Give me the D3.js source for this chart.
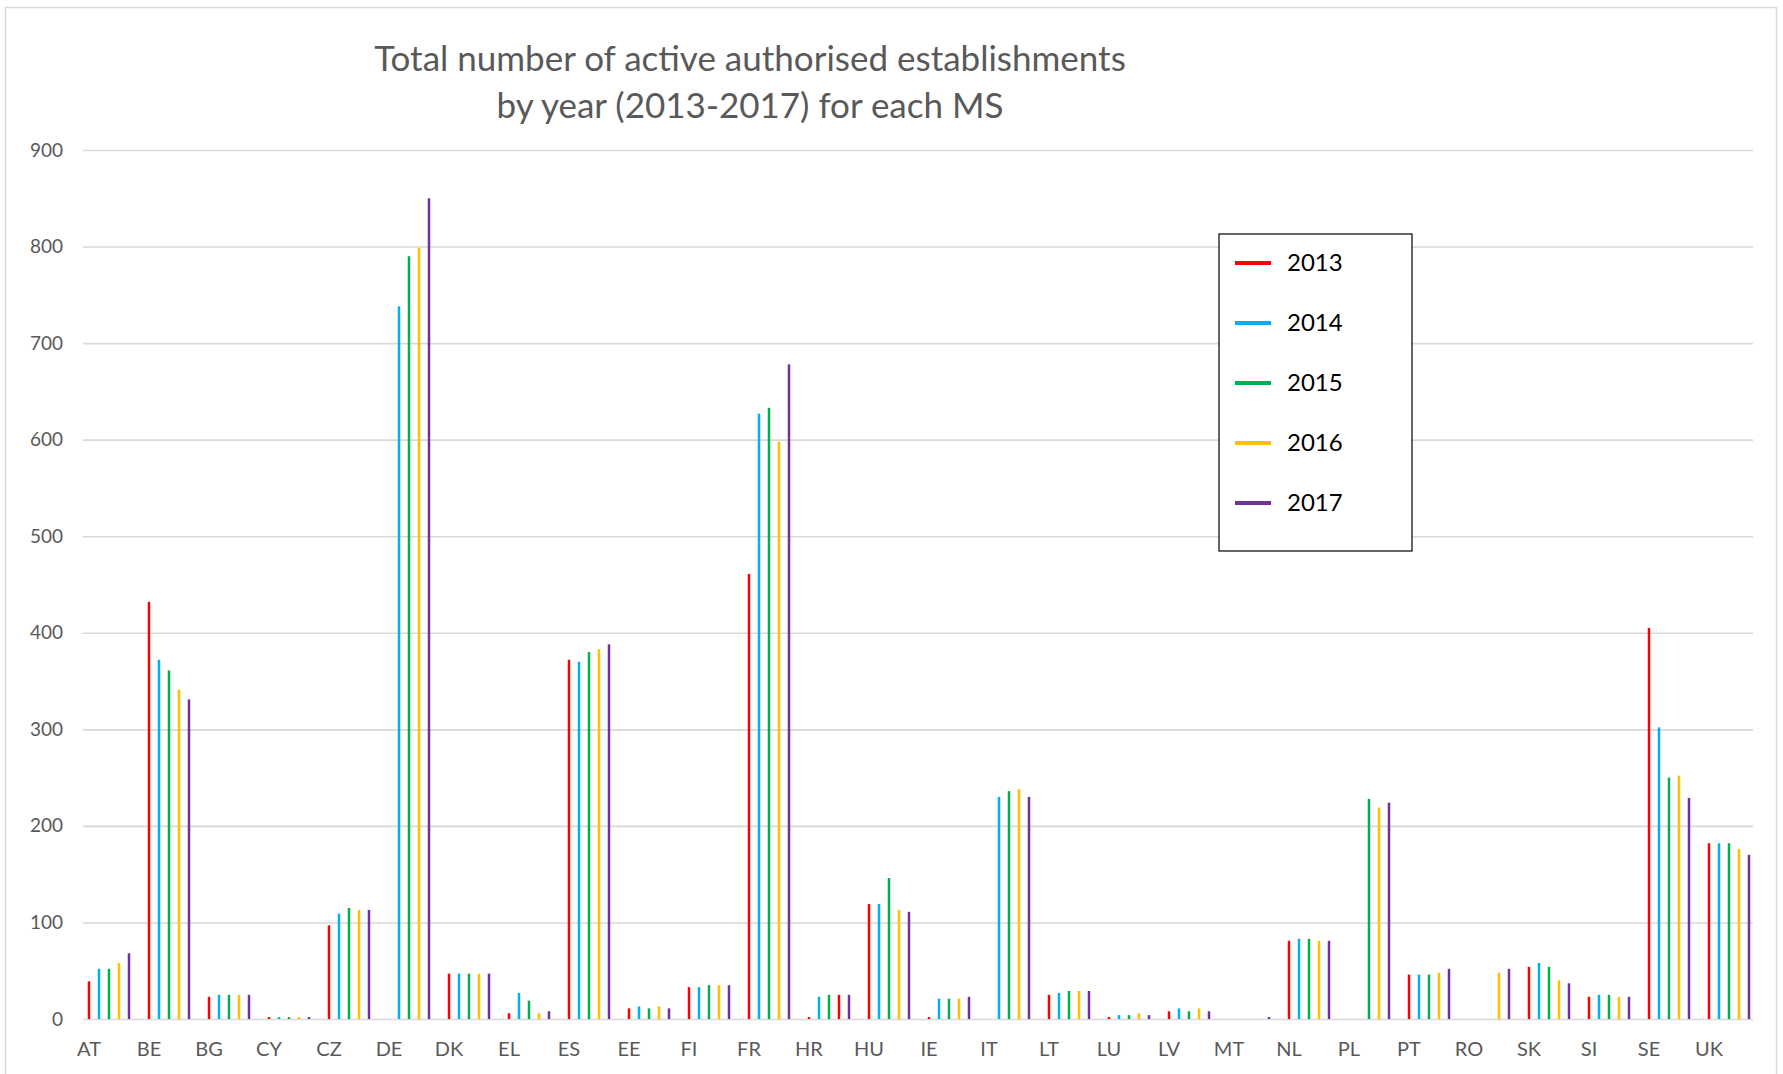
<!DOCTYPE html>
<html>
<head>
<meta charset="utf-8">
<script src="https://cdnjs.cloudflare.com/ajax/libs/d3/7.8.5/d3.min.js"></script>
<style>
  body { margin: 0; background: #fff; }
  text { font-family: Lato, "Open Sans", sans-serif; }
</style>
</head>
<body>
<div id="chart"></div>
<script>

/* DATA */
const countries = ["AT", "BE", "BG", "CY", "CZ", "DE", "DK", "EL", "ES", "EE", "FI", "FR", "HR", "HU",
  "IE", "IT", "LT", "LU", "LV", "MT", "NL", "PL", "PT", "RO", "SK", "SI", "SE", "UK"];
const years = ["2013", "2014", "2015", "2016", "2017"];

const y2013 = [39, 432, 23, 2, 97, 0, 47, 6, 372, 11, 33, 461, 2, 119, 2, 0, 25, 2, 8, 0, 81, 0, 46, 0, 54, 23, 405, 182];
const y2014 = [52, 372, 25, 2, 109, 738, 47, 27, 370, 13, 33, 627, 23, 119, 21, 230, 27, 4, 11, 0, 83, 0, 46, 0, 58, 25, 302, 182];
const y2015 = [52, 361, 25, 2, 115, 790, 47, 19, 380, 11, 35, 633, 25, 146, 21, 236, 29, 4, 8, 0, 83, 228, 46, 0, 54, 25, 250, 182];
const y2016 = [58, 341, 25, 2, 113, 799, 47, 6, 383, 13, 35, 598, 25, 113, 21, 238, 29, 6, 11, 0, 81, 219, 48, 48, 40, 23, 252, 176];
const y2017 = [68, 331, 25, 2, 113, 850, 47, 8, 388, 11, 35, 678, 25, 111, 23, 230, 29, 4, 8, 2, 81, 224, 52, 52, 37, 23, 229, 170];

const yTicks = [0, 100, 200, 300, 400, 500, 600, 700, 800, 900];

const series = [y2013, y2014, y2015, y2016, y2017];

/* STYLE */
const width = 1783, height = 1074;
const margin = { top: 150, bottom: 55, left: 83, right: 30 };
const gridRight = 1753;
const yearColors = ["#ff0000", "#00b0f0", "#00b050", "#ffc000", "#7030a0"];
// one bar in the source is drawn red instead of yellow
const colorOverride = { "HR-2016": "#ff0000" };
const axisGrey = "#595959";

const svg = d3.select("#chart")
  .append("svg")
  .attr("width", width)
  .attr("height", height);

// outer chart border
svg.append("rect")
  .attr("x", 5.5).attr("y", 7.5)
  .attr("width", 1771).attr("height", 1080)
  .attr("fill", "none")
  .attr("stroke", "#d9d9d9")
  .attr("stroke-width", 1.5);

/* SCALES */
const xScale = d3.scaleBand()
  .domain(countries)
  .range([margin.left, margin.left + countries.length * 60]);

const yearScale = d3.scalePoint()
  .domain(years)
  .range([6, 46]);

const yScale = d3.scaleLinear()
  .domain([0, 900])
  .range([height - margin.bottom, margin.top]);

// gridlines + y labels
const yAxis = d3.axisLeft(yScale)
  .tickValues(yTicks)
  .tickSize(-(gridRight - margin.left))
  .tickPadding(20);

const yAxisGroup = svg.append("g")
  .attr("transform", `translate(${margin.left}, 0)`)
  .call(yAxis);

yAxisGroup.select(".domain").remove();
yAxisGroup.selectAll("line")
  .attr("stroke", "#d9d9d9")
  .attr("stroke-width", 1.6);
yAxisGroup.selectAll("text")
  .attr("fill", axisGrey)
  .style("font-size", "19px");

// x labels, placed under the first bar of each group
const xAxis = d3.axisBottom(xScale).tickSize(0).tickPadding(23);
const xAxisGroup = svg.append("g")
  .attr("transform", `translate(${yearScale("2013") - xScale.bandwidth() / 2}, ${yScale(0)})`)
  .call(xAxis);
xAxisGroup.select(".domain").remove();
xAxisGroup.selectAll("text")
  .attr("fill", axisGrey)
  .style("font-size", "20px");

/* BARS */
const barData = [];
countries.forEach((c, i) => {
  years.forEach((yr, j) => {
    barData.push({ country: c, year: yr, value: series[j][i], color: yearColors[j] });
  });
});

svg.append("g")
  .selectAll("rect")
  .data(barData.filter(d => d.value > 0))
  .join("rect")
  .attr("x", d => xScale(d.country) + yearScale(d.year) - 1.25)
  .attr("width", 2.5)
  .attr("y", d => yScale(d.value))
  .attr("height", d => yScale(0) - yScale(d.value))
  .attr("fill", d => colorOverride[d.country + "-" + d.year] || d.color);

/* TITLE */
svg.append("text")
  .attr("x", 750).attr("y", 71)
  .attr("text-anchor", "middle")
  .attr("fill", axisGrey)
  .style("font-size", "35px")
  .text("Total number of active authorised establishments");

svg.append("text")
  .attr("x", 750).attr("y", 118)
  .attr("text-anchor", "middle")
  .attr("fill", axisGrey)
  .style("font-size", "35px")
  .text("by year (2013-2017) for each MS");

/* LEGEND */
const legend = svg.append("g").attr("transform", "translate(1219, 234)");

legend.append("rect")
  .attr("width", 193).attr("height", 317)
  .attr("fill", "#fff")
  .attr("stroke", "#000")
  .attr("stroke-width", 1.2);

const legendRow = legend.selectAll("g.row")
  .data(years)
  .join("g")
  .attr("class", "row")
  .attr("transform", (d, i) => `translate(0, ${29 + i * 60})`);

legendRow.append("line")
  .attr("x1", 16).attr("x2", 52)
  .attr("stroke", (d, i) => yearColors[i])
  .attr("stroke-width", 4);

legendRow.append("text")
  .attr("x", 68).attr("dy", "0.35em")
  .attr("fill", "#000")
  .style("font-size", "24px")
  .text(d => d);

</script>
</body>
</html>
